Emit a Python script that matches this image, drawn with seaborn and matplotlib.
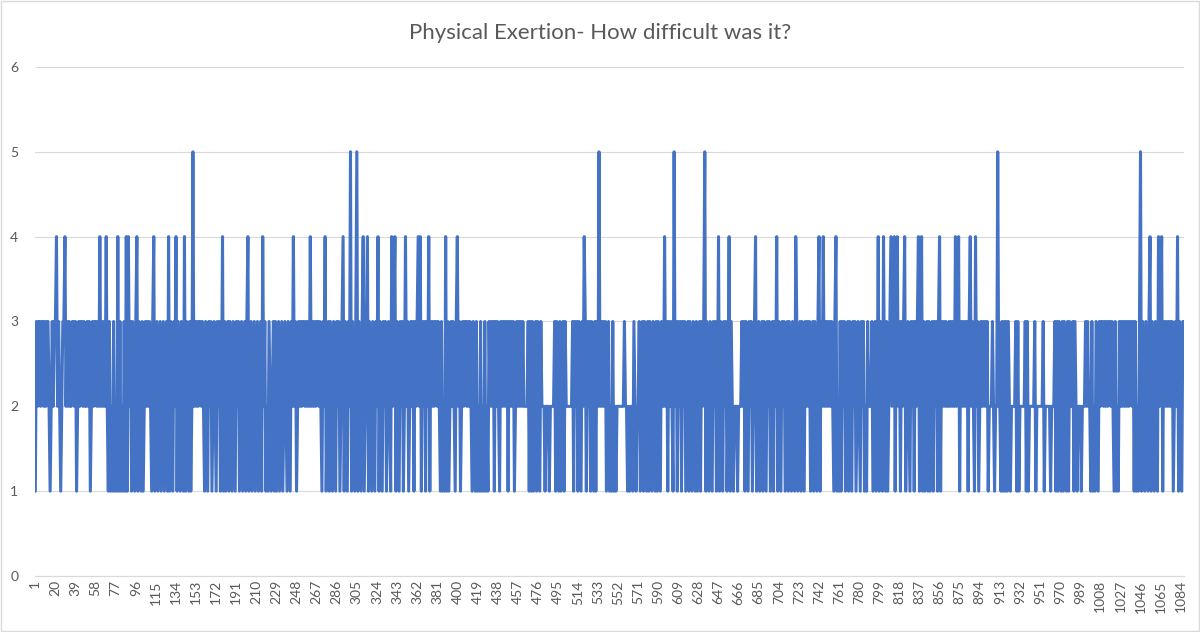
import numpy as np
import pandas as pd
import seaborn as sns
import matplotlib.pyplot as plt
from matplotlib.patches import Rectangle

# responses, 100 per block (last block shorter)
block_0001 = ("1323323323" "2332123233" "4232123342" "3232233231" "2323323223"
              "2312323323" "2423232421" "3121312141" "3121314142" "3132134132")
block_0101 = ("1312323232" "1341231231" "2312314132" "1324132132" "1413213125"
              "2323233232" "1321323123" "2132312413" "1231321321" "3231231231")
block_0201 = ("3412312312" "3123142312" "1321231312" "3123123213" "2132423123"
              "2323323232" "4232323323" "2132412313" "2132132312" "3413213251")
block_0301 = ("3213513213" "4123413213" "2132413213" "2312321423" "4132132312"
              "4231232313" "2342413231" "3241323233" "2321312141" "3123232134")
block_0401 = ("2312323323" "2321321312" "1312131213" "2323132321" "3232323132"
              "3231232323" "2322223131" "3123132132" "2212221222" "2313213123")
block_0501 = ("1322222231" "3231321324" "3132313213" "1325232323" "1231213121"
              "2222222322" "1212213212" "2312313213" "1321321313" "2132242313")
block_0601 = ("2321523132" "3132312313" "2132131231" "3235132132" "1323124132"
              "1323124132" "1222122232" "3132132312" "3412312313" "2132312313")
block_0701 = ("2413213231" "2313213214" "3123132132" "3231231321" "3413242323"
              "2323213412" "1313231231" "3213231232" "1323121322" "2312312413")
block_0801 = ("2142131234" "2341342313" "2341232132" "3132341341" "3123131231"
              "3231341323" "2322323232" "4234132323" "2313423214" "2312323232")
block_0901 = ("3122232122" "5221313131" "3212222313" "1222223131" "2222231222"
              "2223122222" "1222313132" "1313213132" "2313212221" "2223232213")
block_1001 = ("1213213233" "2323233232" "1312132323" "2323233231" "3121351321"
              "3213413213" "2142341323" "2323231232" "4132133")

blocks = [block_0001, block_0101, block_0201, block_0301, block_0401, block_0501,
          block_0601, block_0701, block_0801, block_0901, block_1001]
values = [int(c) for b in blocks for c in b]
idx = list(range(1, len(values) + 1))

title = "Physical Exertion- How difficult was it?"
xtick_labels = list(range(1, len(values) + 1, 19))

df = pd.DataFrame({"n": idx, "score": values})

sns.set_style("white")
plt.rcParams["font.family"] = ["Lato", "DejaVu Sans"]

fig = plt.figure(figsize=(12, 6.32), dpi=100)
ax = fig.add_axes([0.029, 0.0886, 0.958, 0.8054])

sns.lineplot(data=df, x="n", y="score", color="#4472C4", linewidth=2.2, ax=ax)

ax.set_xlim(0.5, len(values) + 0.5)
ax.set_ylim(0, 6)
ax.set_yticks(range(0, 7))
ax.set_xticks(xtick_labels)
ax.set_xticklabels([str(v) for v in xtick_labels], rotation=90)
ax.tick_params(axis="both", length=0, labelsize=10, colors="#595959")
ax.tick_params(axis="y", pad=12)
ax.tick_params(axis="x", pad=3)
ax.yaxis.grid(True, color="#d9d9d9", linewidth=0.8)
ax.set_axisbelow(True)
for s in ["top", "right", "left"]:
    ax.spines[s].set_visible(False)
ax.spines["bottom"].set_color("#d9d9d9")
ax.set_xlabel("")
ax.set_ylabel("")

fig.text(0.5, 0.948, title, ha="center", va="center", fontsize=16, color="#595959")

# chart border like the spreadsheet export
fig.patches.append(Rectangle((0.001, 0.001), 0.998, 0.998, transform=fig.transFigure,
                             fill=False, edgecolor="#d9d9d9", linewidth=1))

fig.savefig("out.png", dpi=100)
